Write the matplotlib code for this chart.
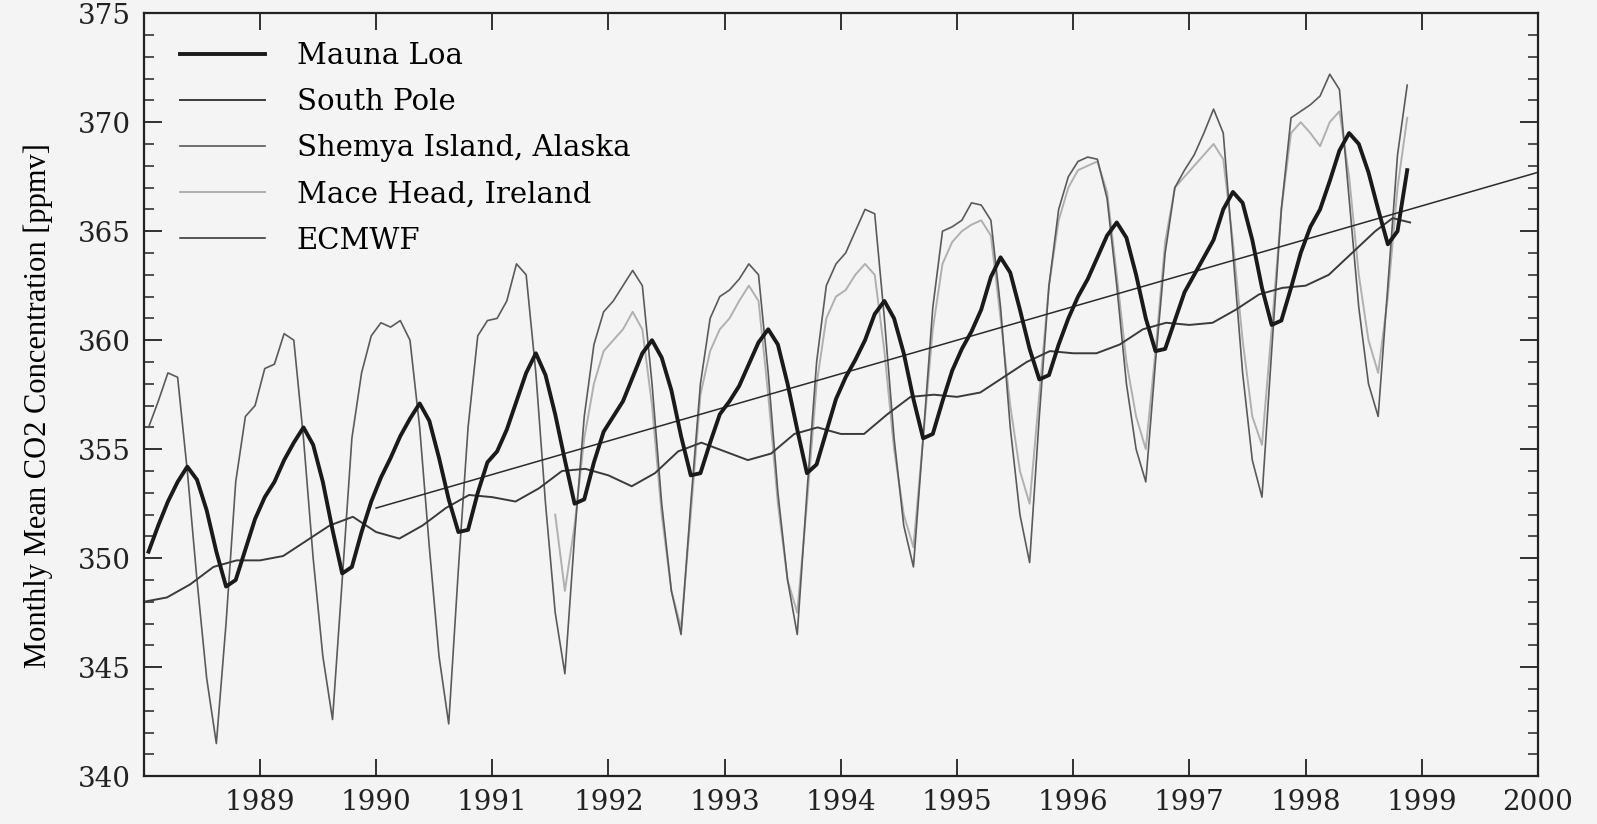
import numpy as np
import matplotlib
matplotlib.use("Agg")
import matplotlib.pyplot as plt
from matplotlib.ticker import MultipleLocator

# monthly means, Jan 1988 .. Nov 1998 (ppmv)
mauna_loa = [
    350.3, 351.5, 352.6, 353.5, 354.2, 353.6, 352.2, 350.3, 348.7, 349.0, 350.4, 351.8,
    352.8, 353.5, 354.5, 355.3, 356.0, 355.2, 353.5, 351.3, 349.3, 349.6, 351.2, 352.6,
    353.7, 354.6, 355.6, 356.4, 357.1, 356.3, 354.6, 352.7, 351.2, 351.3, 353.0, 354.4,
    354.9, 355.9, 357.2, 358.5, 359.4, 358.4, 356.6, 354.5, 352.5, 352.7, 354.4, 355.8,
    356.5, 357.2, 358.3, 359.4, 360.0, 359.2, 357.7, 355.6, 353.8, 353.9, 355.3, 356.6,
    357.2, 357.9, 358.9, 359.9, 360.5, 359.8, 358.0, 355.9, 353.9, 354.3, 355.8, 357.3,
    358.3, 359.1, 360.0, 361.2, 361.8, 361.0, 359.4, 357.3, 355.5, 355.7, 357.2, 358.6,
    359.6, 360.4, 361.4, 362.9, 363.8, 363.1, 361.4, 359.6, 358.2, 358.4, 359.8, 361.0,
    362.0, 362.8, 363.8, 364.8, 365.4, 364.7, 363.0, 361.0, 359.5, 359.6, 360.9, 362.2,
    363.0, 363.8, 364.6, 366.0, 366.8, 366.3, 364.6, 362.4, 360.7, 360.9, 362.4, 364.0,
    365.2, 366.0, 367.3, 368.7, 369.5, 369.0, 367.7, 366.0, 364.4, 365.0, 367.8,
]

shemya = [
    356.0, 357.2, 358.5, 358.3, 354.0, 349.0, 344.5, 341.5, 347.0, 353.5, 356.5, 357.0,
    358.7, 358.9, 360.3, 360.0, 355.5, 350.0, 345.5, 342.6, 349.0, 355.5, 358.5, 360.2,
    360.8, 360.6, 360.9, 360.0, 356.0, 350.5, 345.5, 342.4, 349.5, 356.0, 360.2, 360.9,
    361.0, 361.8, 363.5, 363.0, 358.5, 352.5, 347.5, 344.7, 351.0, 356.5, 359.8, 361.3,
    361.8, 362.5, 363.2, 362.5, 358.0, 352.5, 348.5, 346.5, 352.5, 358.0, 361.0, 362.0,
    362.3, 362.8, 363.5, 363.0, 358.5, 353.0, 349.0, 346.5, 353.0, 359.0, 362.5, 363.5,
    364.0, 365.0, 366.0, 365.8, 361.0, 355.5, 351.5, 349.6, 355.5, 361.5, 365.0, 365.2,
    365.5, 366.3, 366.2, 365.5, 361.5, 356.0, 352.0, 349.8, 356.5, 362.5, 366.0, 367.5,
    368.2, 368.4, 368.3, 366.5, 362.5, 358.0, 355.0, 353.5, 359.0, 364.0, 367.0, 367.8,
    368.5, 369.5, 370.6, 369.5, 364.0, 358.5, 354.5, 352.8, 359.5, 366.0, 370.2, 370.5,
    370.8, 371.2, 372.2, 371.5, 366.5, 361.5, 358.0, 356.5, 362.5, 368.5, 371.7,
]

# Mace Head starts July 1991
mace_head = [
    352.0, 348.5, 351.5, 355.5, 358.0, 359.5,
    360.0, 360.5, 361.3, 360.5, 357.0, 352.0, 348.5, 346.8, 352.0, 357.5, 359.5, 360.5,
    361.0, 361.8, 362.5, 361.8, 357.5, 352.5, 349.0, 347.5, 352.5, 358.0, 361.0, 362.0,
    362.3, 363.0, 363.5, 363.0, 359.5, 355.0, 352.0, 350.5, 355.5, 360.5, 363.5, 364.5,
    365.0, 365.3, 365.5, 364.8, 361.0, 357.0, 354.0, 352.5, 357.5, 362.5, 365.5, 367.0,
    367.8, 368.0, 368.2, 366.8, 363.0, 359.0, 356.5, 355.0, 359.5, 364.5, 367.0, 367.5,
    368.0, 368.5, 369.0, 368.3, 364.5, 360.0, 356.5, 355.2, 360.5, 366.0, 369.5, 370.0,
    369.5, 368.9, 370.0, 370.5, 367.5, 363.0, 360.0, 358.5, 362.0, 367.0, 370.2,
]

# South Pole, smooth curve sampled off the figure
sp_years = [1988.0, 1988.2, 1988.4, 1988.6, 1988.8, 1989.0, 1989.2, 1989.4, 1989.6, 1989.8,
            1990.0, 1990.2, 1990.4, 1990.6, 1990.8, 1991.0, 1991.2, 1991.4, 1991.6, 1991.8,
            1992.0, 1992.2, 1992.4, 1992.6, 1992.8, 1993.0, 1993.2, 1993.4, 1993.6, 1993.8,
            1994.0, 1994.2, 1994.4, 1994.6, 1994.8, 1995.0, 1995.2, 1995.4, 1995.6, 1995.8,
            1996.0, 1996.2, 1996.4, 1996.6, 1996.8, 1997.0, 1997.2, 1997.4, 1997.6, 1997.8,
            1998.0, 1998.2, 1998.4, 1998.6, 1998.75, 1998.9]
south_pole = [348.0, 348.2, 348.8, 349.6, 349.9, 349.9, 350.1, 350.8, 351.5, 351.9,
              351.2, 350.9, 351.5, 352.3, 352.9, 352.8, 352.6, 353.2, 354.0, 354.1,
              353.8, 353.3, 353.9, 354.9, 355.3, 354.9, 354.5, 354.8, 355.7, 356.0,
              355.7, 355.7, 356.6, 357.4, 357.5, 357.4, 357.6, 358.3, 359.0, 359.5,
              359.4, 359.4, 359.8, 360.5, 360.8, 360.7, 360.8, 361.4, 362.1, 362.4,
              362.5, 363.0, 364.0, 365.0, 365.6, 365.4]

# ECMWF linear trend
ecmwf_years = [1990.0, 2000.0]
ecmwf = [352.3, 367.7]

t_ml = 1988 + (np.arange(len(mauna_loa)) + 0.5) / 12
t_sh = 1988 + (np.arange(len(shemya)) + 0.5) / 12
t_mh = 1991.5 + (np.arange(len(mace_head)) + 0.5) / 12

bg = '#f4f4f4'
fig = plt.figure(figsize=(15.97, 8.24), dpi=100, facecolor=bg)
ax = fig.add_axes([0.090, 0.058, 0.873, 0.926], facecolor=bg)

ax.plot(t_mh, mace_head, color='#b0b0b0', lw=1.4, label='Mace Head, Ireland')
ax.plot(t_sh, shemya, color='#5a5a5a', lw=1.2, label='Shemya Island, Alaska')
ax.plot(sp_years, south_pole, color='#3a3a3a', lw=1.4, label='South Pole')
ax.plot(ecmwf_years, ecmwf, color='#2a2a2a', lw=1.1, label='ECMWF')
ax.plot(t_ml, mauna_loa, color='#1a1a1a', lw=2.8, label='Mauna Loa')

ax.set_xlim(1988, 2000)
ax.set_ylim(340, 375)
ax.set_xticks(range(1989, 2001))
ax.yaxis.set_major_locator(MultipleLocator(5))
ax.yaxis.set_minor_locator(MultipleLocator(1))
ax.tick_params(which='both', direction='in', top=True, right=True, colors='#222222')
ax.tick_params(axis='x', which='major', length=12, width=1.3, labelsize=20, pad=9)
ax.tick_params(axis='y', which='major', length=13, width=1.3, labelsize=20, pad=9)
ax.tick_params(which='minor', length=7, width=1.1)
for lab in ax.get_xticklabels() + ax.get_yticklabels():
    lab.set_family('DejaVu Serif')
for sp in ax.spines.values():
    sp.set_linewidth(1.6)
    sp.set_color('#222222')

ax.set_ylabel('Monthly Mean CO2 Concentration [ppmv]', family='Liberation Serif',
              fontsize=22)
ax.yaxis.set_label_coords(-0.065, 0.486)

h, l = ax.get_legend_handles_labels()
order = ['Mauna Loa', 'South Pole', 'Shemya Island, Alaska', 'Mace Head, Ireland', 'ECMWF']
hs = [h[l.index(o)] for o in order]
ax.legend(hs, order, loc='upper left', bbox_to_anchor=(0.026, 0.962), frameon=False,
          handlelength=2.9, handletextpad=1.1, labelspacing=0.62, borderaxespad=0,
          borderpad=0, prop={'family': 'DejaVu Serif', 'size': 21})

fig.savefig('out.png', dpi=100, facecolor=bg)
